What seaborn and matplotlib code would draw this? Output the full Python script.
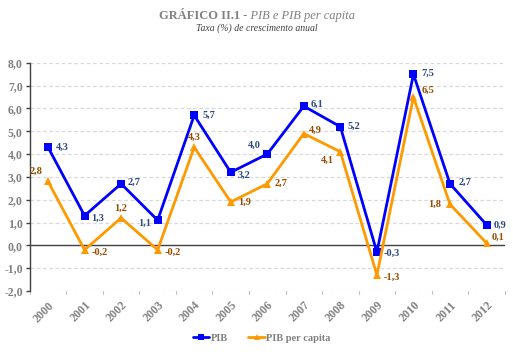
import matplotlib
matplotlib.use("Agg")
import matplotlib.pyplot as plt
import seaborn as sns
import pandas as pd
from matplotlib.lines import Line2D

years = ["2000", "2001", "2002", "2003", "2004", "2005", "2006", "2007", "2008", "2009", "2010", "2011", "2012"]
pib = [4.3, 1.3, 2.7, 1.1, 5.7, 3.2, 4.0, 6.1, 5.2, -0.3, 7.5, 2.7, 0.9]
pib_pc = [2.8, -0.2, 1.2, -0.2, 4.3, 1.9, 2.7, 4.9, 4.1, -1.3, 6.5, 1.8, 0.1]
yticks = [-2, -1, 0, 1, 2, 3, 4, 5, 6, 7, 8]

# label offsets (points) from the marker centre
off_pib = [(6, 0), (5, -2), (5, 1), (-5, -2), (6, 0), (5, -2), (-5, 6), (5, 1), (5, 0), (5, -1), (6, 1), (6, 1), (5, 0)]
off_pc = [(-4, 7), (5, -2), (0, 7), (5, -2), (0, 7), (5, 0), (5, 0), (4, 2), (-5, -6), (5, -2), (6, 5), (-6, 0), (4, 4)]

sns.set_style("white")
plt.rcParams['font.family'] = ['Liberation Serif', 'DejaVu Serif']

df = pd.DataFrame({"x": list(range(len(years))) * 2,
                   "v": pib + pib_pc,
                   "s": ["PIB"] * len(pib) + ["PIB per capita"] * len(pib_pc)})

fig = plt.figure(figsize=(5.13, 3.57), dpi=100)
ax = fig.add_axes([0.058, 0.185, 0.926, 0.639])

blue = "#0000FF"
orange = "#FF9900"
sns.lineplot(data=df, x="x", y="v", hue="s", style="s",
             palette={"PIB": blue, "PIB per capita": orange},
             markers={"PIB": "s", "PIB per capita": "^"}, dashes=False,
             markersize=5.5, markeredgewidth=0, linewidth=2, ax=ax, legend=False)

grey = "#808080"


def ha_of(o):
    return "left" if o[0] > 0 else ("right" if o[0] < 0 else "center")


for i, (v, o) in enumerate(zip(pib, off_pib)):
    ax.annotate(f"{v:.1f}".replace(".", ","), (i, v), xytext=o, textcoords="offset points",
                ha=ha_of(o), va="center", fontsize=7.5, fontweight="bold", color="#2E4A7D")
for i, (v, o) in enumerate(zip(pib_pc, off_pc)):
    ax.annotate(f"{v:.1f}".replace(".", ","), (i, v), xytext=o, textcoords="offset points",
                ha=ha_of(o), va="center", fontsize=7.5, fontweight="bold", color="#994C00")

ax.set_xlim(-0.5, len(years) - 0.5)
ax.set_ylim(-2, 8)
ax.set_yticks(yticks)
ax.set_yticklabels([f"{t:.1f}".replace(".", ",") for t in yticks], fontsize=8.5, fontweight="bold", color=grey)
ax.set_xticks(range(len(years)))
ax.set_xticklabels(years, rotation=45, ha="right", rotation_mode="anchor", fontsize=8.5, fontweight="bold", color=grey)
ax.tick_params(axis="x", length=0, pad=6)
ax.tick_params(axis="y", length=3, width=1, color="#404040", pad=2, left=True)
for t in [i + 0.5 for i in range(-1, len(years))]:
    ax.plot([t, t], [-2, -2.12], color="#C0C0C0", lw=0.8, clip_on=False)

ax.set_xlabel("")
ax.set_ylabel("")
for yv in yticks:
    if yv != 0:
        ax.axhline(yv, color="#D9D9D9", lw=0.9, ls=(0, (3, 2)), zorder=0)
ax.axhline(0, color="#404040", lw=1, zorder=1)
for s in ["top", "right", "bottom"]:
    ax.spines[s].set_visible(False)
ax.spines["left"].set_color("#404040")
ax.spines["left"].set_linewidth(1)

fig.text(0.468, 0.955, "GRÁFICO II.1", ha="right", va="center", fontsize=9, fontweight="bold", color=grey)
fig.text(0.468, 0.955, " - PIB e PIB per capita", ha="left", va="center", fontsize=9, style="italic", color=grey)
fig.text(0.5, 0.922, "Taxa (%) de crescimento anual", ha="center", va="center", fontsize=7, style="italic", color="#404040")

handles = [Line2D([], [], color=blue, marker="s", markersize=5, lw=2, markeredgewidth=0),
           Line2D([], [], color=orange, marker="^", markersize=5, lw=2, markeredgewidth=0)]
fig.legend(handles, ["PIB", "PIB per capita"], loc="center", bbox_to_anchor=(0.51, 0.053), ncol=2,
           frameon=False, handlelength=1.6, handletextpad=0.1, columnspacing=2.0,
           prop={"size": 7.5, "weight": "bold"}, labelcolor=grey)

fig.savefig("out.png", dpi=100)
